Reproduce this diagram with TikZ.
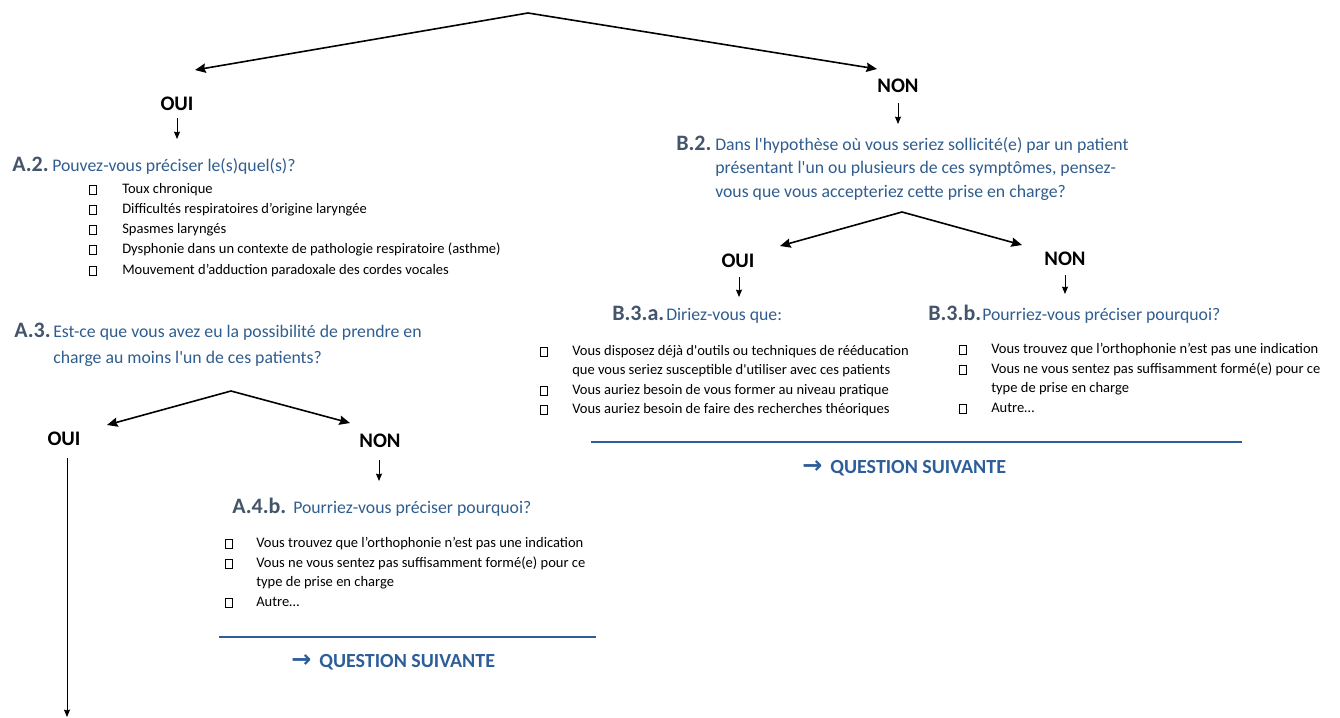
\documentclass[tikz,border=0pt]{standalone}
\usepackage{fontspec}
\setmainfont{Carlito}
\newfontfamily\arrfont{DejaVu Sans}
\usetikzlibrary{arrows.meta}
\definecolor{labc}{HTML}{44546A}
\definecolor{qcol}{HTML}{2F5D8F}
\definecolor{qsc}{HTML}{2E5E99}
\newcommand{\sq}{\textquotesingle}
\newcommand{\qsarrow}{{\arrfont\bfseries\fontsize{18}{18}\selectfont →}}
\begin{document}
\begin{tikzpicture}[x=0.75pt,y=-0.75pt,
  lab/.style={font=\fontsize{16.5}{19}\selectfont\bfseries, text=labc, inner sep=0, anchor=base west},
  q/.style={font=\fontsize{13.3}{16}\selectfont, text=qcol, inner sep=0, anchor=base west},
  item/.style={font=\fontsize{10.9}{13}\selectfont, inner sep=0, anchor=base west},
  cb/.style={draw, line width=0.45pt, minimum width=5pt, minimum height=6.5pt, inner sep=0},
  ans/.style={font=\fontsize{15.5}{18}\selectfont\bfseries, inner sep=0, anchor=base},
  fork/.style={line width=1.2pt, -{Stealth[length=8pt,width=7pt,inset=1pt]}},
  down/.style={line width=0.7pt, -{Stealth[length=5.5pt,width=4.5pt,inset=0.5pt]}},
  qsline/.style={line width=1.4pt, draw=qsc},
  qst/.style={font=\fontsize{15}{18}\selectfont\bfseries, text=qsc, inner sep=0, anchor=base west}]
\useasboundingbox (0,0) rectangle (1340,718);

% top fork
\coordinate (t0) at (528,13);
\coordinate (t0l) at (195,70);
\coordinate (t0r) at (877,69);
\draw[fork] (t0) -- (t0l);
\draw[fork] (t0) -- (t0r);

% ---------- left branch ----------
\node[ans] (oui1) at (177,110) {OUI};
\coordinate (a1s) at (177,118);
\coordinate (a1e) at (177,139);
\draw[down] (a1s) -- (a1e);

\node[lab] (a2) at (12,171) {A.2.};
\node[q] (a2q) at (52,171) {Pouvez-vous préciser le(s)quel(s)?};
\foreach \y/\t [count=\i] in {193/Toux chronique,
  213/Difficultés respiratoires d’origine laryngée,
  233/Spasmes laryngés,
  253/Dysphonie dans un contexte de pathologie respiratoire (asthme),
  274/Mouvement d’adduction paradoxale des cordes vocales}{
  \node[cb] (a2c\i) at (93,\y-3.5) {};
  \node[item] (a2t\i) at (122,\y) {\t};
}

\node[lab] (a3) at (14,337) {A.3.};
\node[q] (a3q1) at (53,337) {Est-ce que vous avez eu la possibilité de prendre en};
\node[q] (a3q2) at (53,363) {charge au moins l\sq un de ces patients?};

\coordinate (t1) at (231,391);
\coordinate (t1l) at (107,425);
\coordinate (t1r) at (350,423);
\draw[fork] (t1) -- (t1l);
\draw[fork] (t1) -- (t1r);

\node[ans] (oui2) at (64,445) {OUI};
\node[ans] (non2) at (380,447) {NON};
\coordinate (o2s) at (67,458);
\coordinate (o2e) at (67,717);
\draw[down] (o2s) -- (o2e);
\coordinate (n2s) at (379,460);
\coordinate (n2e) at (379,481);
\draw[down] (n2s) -- (n2e);

\node[lab] (a4) at (232,513) {A.4.b.};
\node[q] (a4q) at (293,513) {Pourriez-vous préciser pourquoi?};
\node[cb] (a4c1) at (229,543.5) {};
\node[item] (a4t1) at (256,547) {Vous trouvez que l’orthophonie n’est pas une indication};
\node[cb] (a4c2) at (229,563.5) {};
\node[item] (a4t2) at (256,567) {Vous ne vous sentez pas suffisamment formé(e) pour ce};
\node[item] (a4t2b) at (256,586) {type de prise en charge};
\node[cb] (a4c3) at (229,602.5) {};
\node[item] (a4t3) at (256,606) {Autre…};

\coordinate (l1a) at (219,637);
\coordinate (l1b) at (596,637);
\draw[qsline] (l1a) -- (l1b);
\node[qst] (qs1) at (291,667) {\qsarrow\hspace{6pt}QUESTION SUIVANTE};

% ---------- right branch ----------
\node[ans] (non1) at (898,92) {NON};
\coordinate (n1s) at (898,103);
\coordinate (n1e) at (898,124);
\draw[down] (n1s) -- (n1e);

\node[lab] (b2) at (676,150) {B.2.};
\node[q] (b2q1) at (715,150) {Dans l\sq hypothèse où vous seriez sollicité(e) par un patient};
\node[q] (b2q2) at (715,173.5) {présentant l\sq un ou plusieurs de ces symptômes, pensez-};
\node[q] (b2q3) at (715,197) {vous que vous accepteriez cette prise en charge?};

\coordinate (t2) at (902,212);
\coordinate (t2l) at (780,246);
\coordinate (t2r) at (1022,245);
\draw[fork] (t2) -- (t2l);
\draw[fork] (t2) -- (t2r);

\node[ans] (oui3) at (738,267) {OUI};
\node[ans] (non3) at (1065,265) {NON};
\coordinate (o3s) at (739,277);
\coordinate (o3e) at (739,297);
\draw[down] (o3s) -- (o3e);
\coordinate (n3s) at (1065,275);
\coordinate (n3e) at (1065,294);
\draw[down] (n3s) -- (n3e);

\node[lab] (b3a) at (612,320) {B.3.a.};
\node[q] (b3aq) at (666,320) {Diriez-vous que:};
\node[cb] (bac1) at (544,351.5) {};
\node[item] (bat1) at (572,355) {Vous disposez déjà d\sq outils ou techniques de rééducation};
\node[item] (bat1b) at (572,374) {que vous seriez susceptible d\sq utiliser avec ces patients};
\node[cb] (bac2) at (544,390.5) {};
\node[item] (bat2) at (572,394) {Vous auriez besoin de vous former au niveau pratique};
\node[cb] (bac3) at (544,409.5) {};
\node[item] (bat3) at (572,413) {Vous auriez besoin de faire des recherches théoriques};

\node[lab] (b3b) at (928,320) {B.3.b.};
\node[q] (b3bq) at (982,320) {Pourriez-vous préciser pourquoi?};
\node[cb] (bbc1) at (963,349.5) {};
\node[item] (bbt1) at (991,353) {Vous trouvez que l’orthophonie n’est pas une indication};
\node[cb] (bbc2) at (963,369.5) {};
\node[item] (bbt2) at (991,373) {Vous ne vous sentez pas suffisamment formé(e) pour ce};
\node[item] (bbt2b) at (991,392) {type de prise en charge};
\node[cb] (bbc3) at (963,408.5) {};
\node[item] (bbt3) at (991,412) {Autre…};

\coordinate (l2a) at (591,442);
\coordinate (l2b) at (1242,442);
\draw[qsline] (l2a) -- (l2b);
\node[qst] (qs2) at (802,473) {\qsarrow\hspace{6pt}QUESTION SUIVANTE};
\end{tikzpicture}
\end{document}
